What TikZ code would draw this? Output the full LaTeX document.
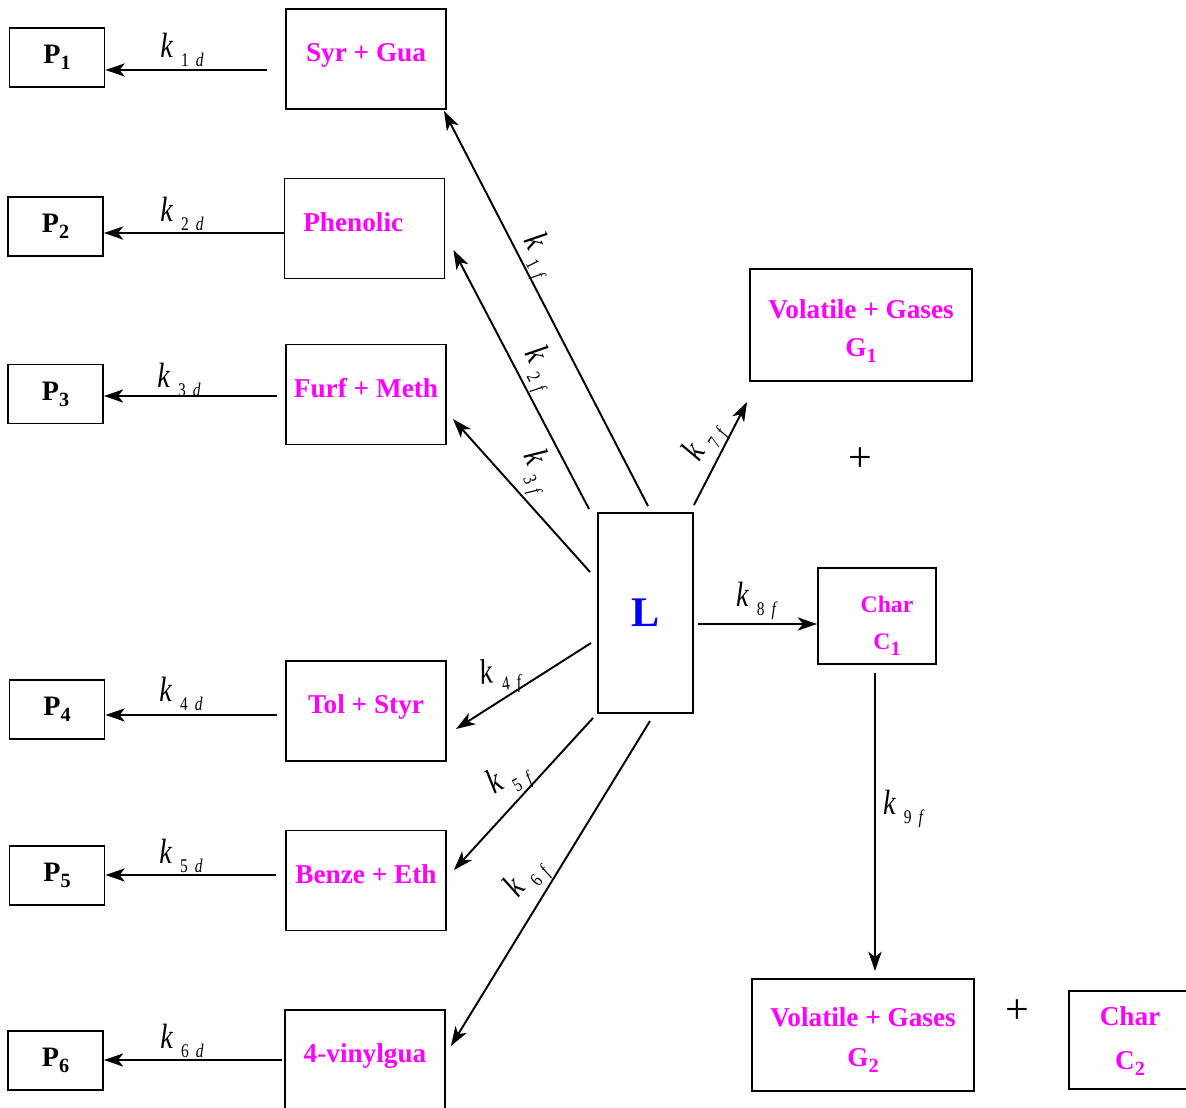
\documentclass[tikz,border=0pt]{standalone}
\usepackage{fontspec}
\setmainfont{Liberation Serif}
\usepackage{tikz}
\usetikzlibrary{positioning}
\usetikzlibrary{calc,arrows.meta}

\definecolor{prodmag}{RGB}{255,0,255}

\newcommand{\subidx}[1]{\raisebox{-3.5pt}{\fontsize{11.5}{11.5}\selectfont #1}}
\newcommand{\boxtxt}[1]{\raisebox{-1.5pt}[0pt][0pt]{#1}}
\newcommand{\krate}[2]{\scalebox{0.8}[1]{\fontsize{20}{20}\selectfont\itshape k\hspace{6pt}\raisebox{-5pt}{\fontsize{11}{11}\selectfont\upshape #1\hspace{5pt}\itshape #2}}}

\tikzset{
	box/.style={draw, line width=1.1pt, inner sep=0pt, align=center},
	pbox/.style={box, minimum width=1.9cm, minimum height=1.18cm, font=\fontsize{16}{18}\selectfont\bfseries},
	sbox/.style={box, minimum width=3.2cm, minimum height=2.0cm, text=prodmag, font=\fontsize{15.5}{22}\selectfont\bfseries},
	gbox/.style={box, minimum width=4.44cm, minimum height=2.24cm},
	spec/.style={inner sep=0pt, align=center, text=prodmag, font=\fontsize{15.5}{22}\selectfont\bfseries},
	rate/.style={line width=1.1pt, -{Stealth[length=11pt, width=7.5pt, inset=3pt]}},
	klab/.style={inner sep=0pt},
}

\begin{document}
\begin{tikzpicture}[x=0.02cm, y=-0.02cm]
	\useasboundingbox (0,0) rectangle (1186,1108);
	
	% ---------------------
	% Lignin & products
	\node[box, minimum width=1.9cm, minimum height=4.0cm, text=blue, font=\fontsize{24}{24}\selectfont\bfseries] (L) at (645.5,613) {L};
	
	\node[sbox] (SyrGua)   at (366,59)      {\boxtxt{Syr + Gua}};
	\node[sbox] (Phen)     at (364.5,228.5) {\boxtxt{Phenolic\hspace{0.45cm}}};
	\node[sbox] (FurfMeth) at (366,394.5)   {\boxtxt{Furf + Meth}};
	\node[sbox] (TolStyr)  at (366,711)     {\boxtxt{Tol + Styr}};
	\node[sbox] (BenzEth)  at (366,880.5)   {\boxtxt{Benze + Eth}};
	\node[sbox] (Vinyl)    at (365,1060)    {\boxtxt{4-vinylgua}};
	
	\node[pbox] (P1) at (57,57.5)     {P\subidx{1}};
	\node[pbox] (P2) at (55.5,226.5)  {P\subidx{2}};
	\node[pbox] (P3) at (55.5,394)    {P\subidx{3}};
	\node[pbox] (P4) at (57,709.5)    {P\subidx{4}};
	\node[pbox] (P5) at (57,875.5)    {P\subidx{5}};
	\node[pbox] (P6) at (55.5,1060.5) {P\subidx{6}};
	
	\node[gbox] (GasA) at (861,325) {};
	\node[spec] (GasAText) at (861,331) {Volatile + Gases\\G\subidx{1}};
	\node[box, minimum width=2.36cm, minimum height=1.92cm] (CharA) at (877,616) {};
	\node[spec, font=\fontsize{13.5}{20}\selectfont\bfseries] (CharAText) at (887,626) {Char\\[1pt]C\subidx{1}};
	\node[gbox] (GasB) at (863,1035) {};
	\node[spec] (GasBText) at (863,1040) {Volatile + Gases\\[1pt]G\subidx{2}};
	\node[box, minimum width=2.42cm, minimum height=1.96cm] (CharB) at (1129.5,1040) {};
	\node[spec] (CharBText) at (1130,1041) {Char\\[3pt]C\subidx{2}};
	
	\node[font=\fontsize{24}{24}\selectfont] (PlusA) at (860,460)  {+};
	\node[font=\fontsize{24}{24}\selectfont] (PlusB) at (1017,1012) {+};
	
	% ---------------------
	% Arrow ends
	\path (SyrGua.west)   +(-18,11)  coordinate (SyrOut);
	\path (Phen.west)     +(0,4.5)   coordinate (PhenOut);
	\path (FurfMeth.west) +(-8,1.5)  coordinate (FurfOut);
	\path (TolStyr.west)  +(-8,4)    coordinate (TolOut);
	\path (BenzEth.west)  +(-9,-5.5) coordinate (BenzOut);
	\path (Vinyl.west)    +(-2,0)    coordinate (VinylOut);
	
	\path (L.north) +(2.5,-6)     coordinate (LOutA);
	\path (L.north west) +(-8,-3) coordinate (LOutB);
	\path (L.west) +(-7,-41)      coordinate (LOutC);
	\path (L.west) +(-6,30)       coordinate (LOutD);
	\path (L.south west) +(-4,4)  coordinate (LOutE);
	\path (L.south) +(4.5,7)      coordinate (LOutF);
	\path (L.north east) +(0,-7)  coordinate (LOutG);
	\path (L.east) +(4,11)        coordinate (LOutH);
	
	\path (SyrGua.south east) +(-3,1) coordinate (SyrIn);
	\path (Phen.east) +(8,21.5)       coordinate (PhenIn);
	\path (FurfMeth.east) +(6,24.5)   coordinate (FurfIn);
	\path (TolStyr.east) +(9,18)      coordinate (TolIn);
	\path (BenzEth.east) +(7,-10.5)   coordinate (BenzIn);
	\path (Vinyl.east) +(5,-14)       coordinate (VinylIn);
	\path (GasA.south west) +(-2,20)  coordinate (GasAIn);
	\path (CharA.south) +(-2,8)       coordinate (CharAOut);
	\path (GasB.north) +(12,-7)       coordinate (GasBIn);
	
	% ---------------------
	% Reactions
	\draw[rate] (SyrOut)   -- (P1.east |- SyrOut);
	\draw[rate] (PhenOut)  -- (P2.east |- PhenOut);
	\draw[rate] (FurfOut)  -- (P3.east |- FurfOut);
	\draw[rate] (TolOut)   -- (P4.east |- TolOut);
	\draw[rate] (BenzOut)  -- (P5.east |- BenzOut);
	\draw[rate] (VinylOut) -- (P6.east |- VinylOut);
	
	\draw[rate] (LOutA) -- (SyrIn);
	\draw[rate] (LOutB) -- (PhenIn);
	\draw[rate] (LOutC) -- (FurfIn);
	\draw[rate] (LOutD) -- (TolIn);
	\draw[rate] (LOutE) -- (BenzIn);
	\draw[rate] (LOutF) -- (VinylIn);
	\draw[rate] (LOutG) -- (GasAIn);
	\draw[rate] (LOutH) -- (CharA.west |- LOutH);
	\draw[rate] (CharAOut) -- (GasBIn);
	
	% ------------------------------------------------
	% Rate constants
	\node[klab] (kOneD)   at (182,50)   {\krate{1}{d}};
	\node[klab] (kTwoD)   at (182,214)  {\krate{2}{d}};
	\node[klab] (kThreeD) at (179,380)  {\krate{3}{d}};
	\node[klab] (kFourD)  at (181,694)  {\krate{4}{d}};
	\node[klab] (kFiveD)  at (181,856)  {\krate{5}{d}};
	\node[klab] (kSixD)   at (182,1041) {\krate{6}{d}};
	
	\node[klab, rotate=-63] (kOneF)   at (538,256) {\krate{1}{f}};
	\node[klab, rotate=-63] (kTwoF)   at (539,369) {\krate{2}{f}};
	\node[klab, rotate=-68] (kThreeF) at (536,472) {\krate{3}{f}};
	\node[klab, rotate=8]   (kFourF)  at (500,676) {\krate{4}{f}};
	\node[klab, rotate=30]  (kFiveF)  at (509,780) {\krate{5}{f}};
	\node[klab, rotate=50]  (kSixF)   at (527,879) {\krate{6}{f}};
	\node[klab, rotate=58]  (kSevenF) at (705,443) {\krate{7}{f}};
	\node[klab] (kEightF) at (756,601) {\krate{8}{f}};
	\node[klab] (kNineF)  at (903,809) {\krate{9}{f}};
	
\end{tikzpicture}
\end{document}
